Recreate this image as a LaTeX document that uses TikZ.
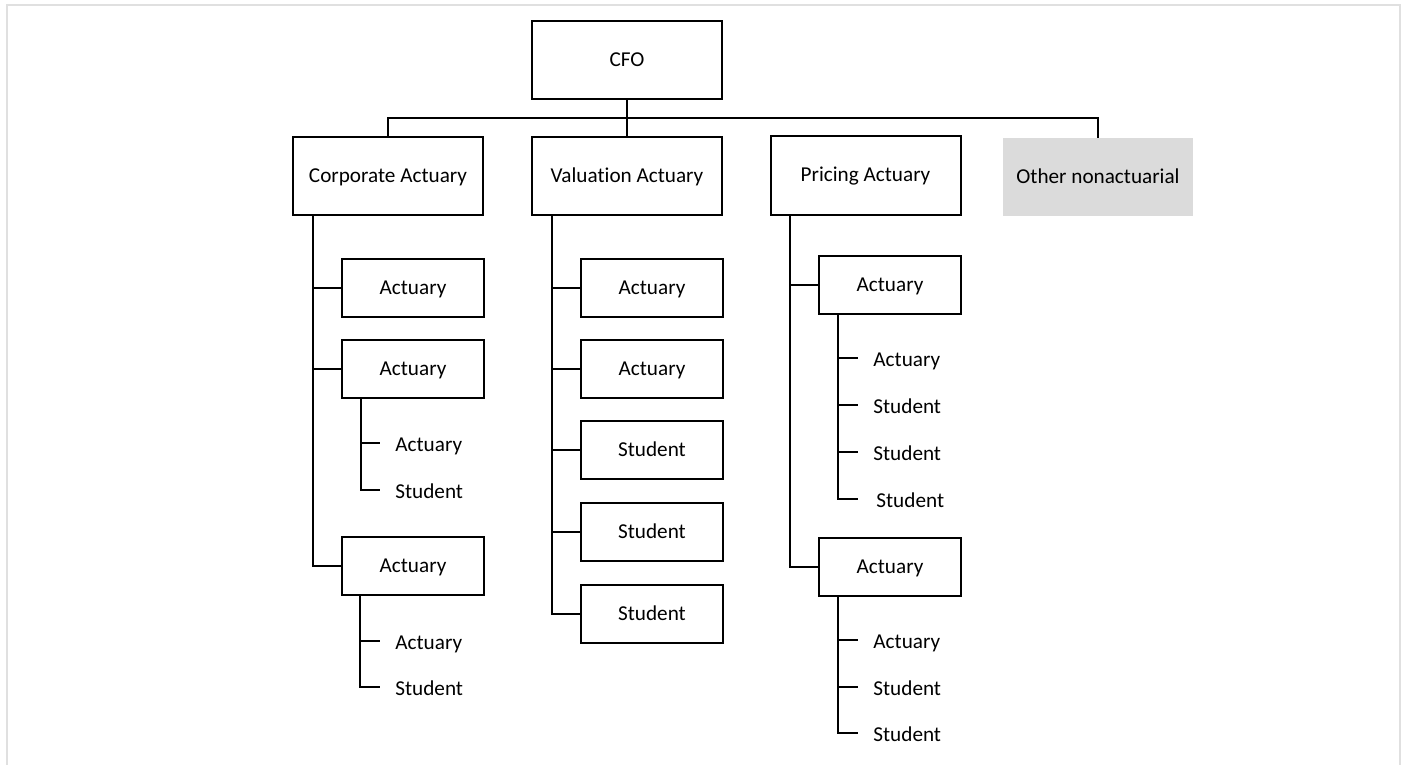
\documentclass[tikz,border=0pt]{standalone}
\usepackage{fontspec}
\setmainfont{Carlito}[RawFeature={-liga}]
\begin{document}
\begin{tikzpicture}[x=0.5pt,y=-0.5pt,
  font=\fontsize{10.6pt}{12pt}\selectfont,
  box/.style={draw, line width=1pt, inner sep=0pt, minimum width=95pt, minimum height=39pt, text height=0.85em, text depth=0.2em},
  sbox/.style={draw, line width=1pt, inner sep=0pt, minimum width=71pt, minimum height=29pt, text height=0.85em, text depth=0.2em},
  gbox/.style={fill=black!14, inner sep=0pt, minimum width=95pt, minimum height=39pt, text height=0.85em, text depth=0.2em},
  leaf/.style={anchor=west, inner xsep=7.5pt, inner ysep=0pt, text height=1em, text depth=0.14em},
  conn/.style={line width=1pt}]
\useasboundingbox (0,0) rectangle (1403,765);
\draw[black!12, line width=0.8pt] (7,770) -- (7,5) -- (1400,5) -- (1400,770);

% top level
\node[box] (cfo) at (627,60.5) {CFO};
\node[box] (corp) at (388,176) {Corporate Actuary};
\node[box] (val) at (627,176) {Valuation Actuary};
\node[box] (pri) at (865.5,175.5) {Pricing Actuary};
\node[gbox] (oth) at (1098,177) {Other nonactuarial};
\coordinate (bus) at (627,118);
\draw[conn] (cfo.south) -- (val.north);
\draw[conn] (corp.north) |- (bus);
\draw[conn] (bus) -| (oth.north);

% corporate
\node[sbox] (ca1) at (413,288) {Actuary};
\node[sbox] (ca2) at (413,369) {Actuary};
\node[sbox] (ca3) at (413,566) {Actuary};
\node[leaf] (c2a) at (380,443) {Actuary};
\node[leaf] (c2b) at (380,490) {Student};
\node[leaf] (c3a) at (380,641) {Actuary};
\node[leaf] (c3b) at (380,687) {Student};
\draw[conn] ([xshift=10.5pt]corp.south west) |- (ca3.west);
\draw[conn] ([xshift=10.5pt]corp.south west |- ca1.west) -- (ca1.west);
\draw[conn] ([xshift=10.5pt]corp.south west |- ca2.west) -- (ca2.west);
\draw[conn] ([xshift=10pt]ca2.south west) |- (c2b.west);
\draw[conn] ([xshift=10pt]ca2.south west |- c2a.west) -- (c2a.west);
\draw[conn] ([xshift=9.5pt]ca3.south west) |- (c3b.west);
\draw[conn] ([xshift=9.5pt]ca3.south west |- c3a.west) -- (c3a.west);

% valuation
\node[sbox] (va1) at (652,288) {Actuary};
\node[sbox] (va2) at (652,369) {Actuary};
\node[sbox] (va3) at (652,450) {Student};
\node[sbox] (va4) at (652,532) {Student};
\node[sbox] (va5) at (652,614) {Student};
\draw[conn] ([xshift=10.5pt]val.south west) |- (va5.west);
\foreach \n in {va1,va2,va3,va4}
  \draw[conn] ([xshift=10.5pt]val.south west |- \n.west) -- (\n.west);

% pricing
\node[sbox] (pa1) at (890,285) {Actuary};
\node[sbox] (pa2) at (890,567) {Actuary};
\node[leaf] (p1a) at (858,358) {Actuary};
\node[leaf] (p1b) at (858,405) {Student};
\node[leaf] (p1c) at (858,452) {Student};
\node[leaf] (p1d) at (861,499) {Student};
\node[leaf] (p2a) at (858,640) {Actuary};
\node[leaf] (p2b) at (858,687) {Student};
\node[leaf] (p2c) at (858,733) {Student};
\draw[conn] ([xshift=10pt]pri.south west) |- (pa2.west);
\draw[conn] ([xshift=10pt]pri.south west |- pa1.west) -- (pa1.west);
\draw[conn] ([xshift=10pt]pa1.south west) |- ([xshift=-1.5pt]p1d.west);
\foreach \n in {p1a,p1b,p1c}
  \draw[conn] ([xshift=10pt]pa1.south west |- \n.west) -- (\n.west);
\draw[conn] ([xshift=10pt]pa2.south west) |- (p2c.west);
\foreach \n in {p2a,p2b}
  \draw[conn] ([xshift=10pt]pa2.south west |- \n.west) -- (\n.west);
\end{tikzpicture}
\end{document}
